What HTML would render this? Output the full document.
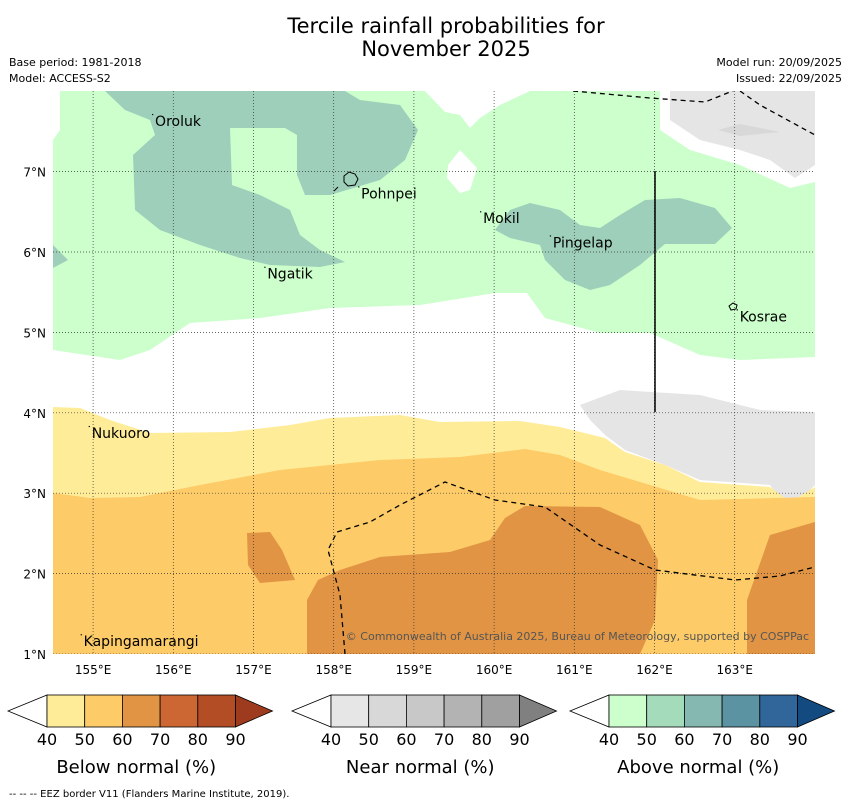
<!DOCTYPE html>
<html><head><meta charset="utf-8"><style>
body{margin:0;background:#fff;width:850px;height:804px;overflow:hidden;font-family:"DejaVu Sans","Liberation Sans",sans-serif}
</style></head><body>
<svg id="c" width="850" height="804" viewBox="0 0 850 804" xmlns="http://www.w3.org/2000/svg" font-family="DejaVu Sans, Liberation Sans, sans-serif">
<text x="446" y="33" font-size="21" text-anchor="middle">Tercile rainfall probabilities for</text>
<text x="446" y="56" font-size="21" text-anchor="middle">November 2025</text>
<text x="9" y="66" font-size="11">Base period: 1981-2018</text>
<text x="9" y="82" font-size="11">Model: ACCESS-S2</text>
<text x="842" y="66" font-size="11" text-anchor="end">Model run: 20/09/2025</text>
<text x="842" y="82" font-size="11" text-anchor="end">Issued: 22/09/2025</text>
<defs><clipPath id="mc"><rect x="53" y="91" width="762" height="563"/></clipPath></defs>
<g clip-path="url(#mc)">
<rect x="53" y="91" width="762" height="563" fill="#fff"/>
<polygon fill="#ccffcc" points="60,91 425,91 445,112 460,115 470,128 480,118 500,105 530,91 660,91 660,130 690,150 740,165 790,188 815,182 815,357 740,360 700,355 650,333 600,333 545,318 527,293 495,293 420,305 330,308 260,318 190,323 150,350 120,360 53,350 53,140 60,130"/>
<polygon fill="#fff" points="460,150 477,168 470,190 460,193 447,178 448,165"/>
<polygon fill="#9ecfba" points="105,91 345,91 360,100 400,105 418,130 405,160 380,180 330,195 305,195 297,175 297,135 285,128 230,128 232,185 260,195 290,210 300,235 320,250 345,262 320,267 270,265 240,258 200,245 160,230 135,210 133,155 155,135 150,120 125,110"/>
<polygon fill="#9ecfba" points="53,245 68,260 53,268"/>
<polygon fill="#9ecfba" points="495,230 510,210 530,203 560,210 580,225 600,228 620,215 645,200 680,198 715,208 732,228 715,244 665,244 640,265 610,285 590,290 565,280 545,260 540,245 510,238"/>
<polygon fill="#e5e5e5" points="670,91 815,91 815,165 795,178 770,160 740,150 700,140 670,120"/>
<polygon fill="#d8d8d8" points="718,130 740,124 780,132 740,136"/>
<polygon fill="#e5e5e5" points="580,405 620,390 700,395 760,410 815,412 815,485 800,500 780,500 770,485 700,480 665,465 625,450 605,435 590,420"/>
<polygon fill="#ffec99" points="53,407 80,408 110,420 150,433 230,432 290,425 330,418 400,415 440,422 520,421 560,427 605,438 625,452 665,465 700,482 770,487 790,502 815,487 815,654 53,654"/>
<polygon fill="#fdcb67" points="53,493 90,498 140,497 200,485 280,470 380,460 460,457 525,449 560,455 600,470 650,485 700,500 815,497 815,654 53,654"/>
<polygon fill="#e09444" points="307,600 318,580 340,570 380,557 450,552 490,540 505,518 525,506 600,507 640,525 658,560 655,620 640,654 307,654"/>
<polygon fill="#e09444" points="747,600 770,535 815,522 815,654 747,654"/>
<polygon fill="#e09444" points="247,533 270,532 282,550 295,580 260,583 248,565"/>
<g stroke="#333" stroke-width="0.7" stroke-dasharray="1,2" id="grid"></g>
<polyline fill="none" stroke="#000" stroke-width="1.3" stroke-dasharray="5,4" points="573,91 650,98 705,102 740,88"/>
<polyline fill="none" stroke="#000" stroke-width="1.3" stroke-dasharray="5,4" points="740,91 760,105 815,135"/>
<polyline fill="none" stroke="#000" stroke-width="1.3" stroke-dasharray="5,4" points="345,654 340,595 328,550 337,532 370,522 400,505 445,482 495,500 545,507 600,545 655,570 735,580 780,576 815,567"/>
<line x1="655" y1="171" x2="655" y2="412" stroke="#000" stroke-width="1.5"/>
<path d="M344,176 l5,-4 l6,2 l3,5 l-3,6 l-7,1 l-4,-4z" fill="none" stroke="#000" stroke-width="1"/>
<line x1="334" y1="191" x2="338" y2="187" stroke="#000"/>
<path d="M729,306 l4,-3 l4,2 l-1,4 l-5,1z" fill="none" stroke="#000" stroke-width="1"/>
<g id="labels" font-size="14" fill="#000"></g>
<text x="809" y="640" font-size="11" fill="#555" text-anchor="end">© Commonwealth of Australia 2025, Bureau of Meteorology, supported by COSPPac</text>
</g>
<g id="axes" font-size="12"></g>
<g id="bars"></g>
<text x="9" y="797" font-size="10">--  --  -- EEZ border V11 (Flanders Marine Institute, 2019).</text>
<script>
const lonTicks=[155,156,157,158,159,160,161,162,163];
const latTicks=[1,2,3,4,5,6,7];
const islandNames=["Oroluk","Pohnpei","Mokil","Pingelap","Ngatik","Kosrae","Nukuoro","Kapingamarangi"];
const islandLon=[155.76,158.33,159.85,160.72,157.16,163.05,154.97,154.87];
const islandLat=[7.63,6.73,6.42,6.12,5.73,5.20,3.75,1.16];
const barTicks=["40","50","60","70","80","90"];
const barTitles=["Below normal (%)","Near normal (%)","Above normal (%)"];
const barColors=[["#ffec99","#fdcb67","#e09444","#cc6633","#b24d26","#9e3a1e"],["#e6e6e6","#d8d8d8","#c8c8c8","#b3b3b3","#a0a0a0","#808080"],["#ccffcc","#a3dbbb","#84b8b0","#5b93a3","#31669a","#134a80"]];
const X=l=>53+(l-154.5)*80.2, Y=a=>654-(a-1)*80.4;
const NS="http://www.w3.org/2000/svg";
function mk(t,a,p){const e=document.createElementNS(NS,t);for(const k in a)e.setAttribute(k,a[k]);p.appendChild(e);return e;}
const g=document.getElementById('grid'),ax=document.getElementById('axes');
lonTicks.forEach(l=>{const e=mk('line',{x1:X(l),x2:X(l),y1:91,y2:654},g);


const t=mk('text',{x:X(l),y:674,'text-anchor':'middle'},ax);t.textContent=l+'°E';

});
latTicks.forEach(a=>{const e=mk('line',{x1:53,x2:815,y1:Y(a),y2:Y(a)},g);


const t=mk('text',{x:46,y:Y(a)+5,'text-anchor':'end'},ax);t.textContent=a+'°N';

});
const lg=document.getElementById('labels');
islandNames.forEach((n,i)=>{const x=X(islandLon[i]),y=Y(islandLat[i]);
const d=mk('rect',{x:x-2,y:y-7,width:1.2,height:1.2,fill:'#000'},lg);
const t=mk('text',{x:x+1,y:y+5},lg);t.textContent=n;

});
const bg=document.getElementById('bars');
[8,292,570].forEach((x0,bi)=>{const w=37.7,x1=x0+39;
const tri=mk('polygon',{points:`${x0},711 ${x1},695 ${x1},727`,fill:'#fff',stroke:'#000','stroke-width':0.8},bg);


for(let i=0;i<5;i++){const r=mk('rect',{x:x1+i*w,y:695,width:w,height:32,fill:barColors[bi][i],stroke:'#000','stroke-width':0.8},bg);

}
const xe=x1+5*w;
const t2=mk('polygon',{points:`${xe},695 ${xe+37},711 ${xe},727`,fill:barColors[bi][5],stroke:'#000','stroke-width':0.8},bg);


barTicks.forEach((s,i)=>{const t=mk('text',{x:x1+i*w,y:745,'font-size':16,'text-anchor':'middle'},bg);t.textContent=s;

});
const tt=mk('text',{x:x1+2.5*w-5,y:773,'font-size':18,'text-anchor':'middle'},bg);tt.textContent=barTitles[bi];

});
</script>
</svg>
</body></html>
